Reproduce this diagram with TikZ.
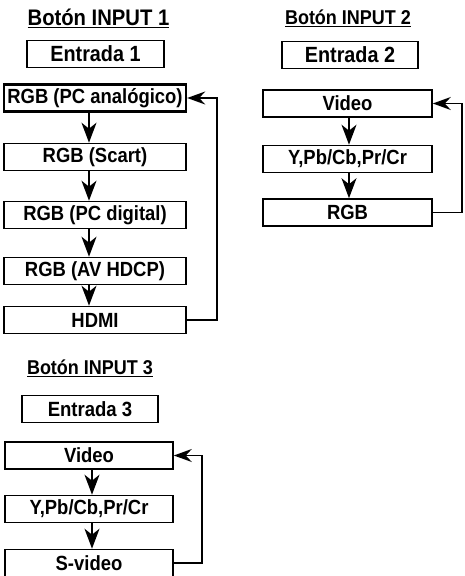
\documentclass[tikz,border=0pt]{standalone}
\usepackage{fontspec}
\setmainfont{Liberation Sans}[FakeStretch=0.9]
\usetikzlibrary{arrows.meta}
\tikzset{
  box/.style={draw, line width=1.6pt, inner sep=0pt, minimum height=27pt, font=\bfseries\fontsize{20.5}{22}\selectfont},
  entbox/.style={draw, line width=1.3pt, inner sep=0pt, minimum height=27pt, font=\bfseries\fontsize{22}{24}\selectfont},
  ttl/.style={inner sep=0pt, font=\bfseries\fontsize{20}{22}\selectfont},
  arr/.style={line width=1.6pt, -{Stealth[length=20pt,width=15pt,inset=6pt]}},
  loop/.style={line width=1.3pt, -{Stealth[length=18pt,width=13pt,inset=6pt]}},
}
\begin{document}
\begin{tikzpicture}[x=1pt,y=-1pt]
\useasboundingbox (0,0) rectangle (465,576);
% Section 1
\node[ttl, font=\bfseries\fontsize{22.5}{24}\selectfont] (t1) at (98.5,18) {\underline{Botón INPUT 1}};
\node[entbox, minimum width=137pt] (e1) at (95.5,54) {Entrada 1};
\node[box, minimum width=182pt, line width=2.4pt] (a1) at (95,98) {RGB (PC analógico)};
\node[box, minimum width=182pt] (a2) at (95,157) {RGB (Scart)};
\node[box, minimum width=182pt] (a3) at (95,215) {RGB (PC digital)};
\node[box, minimum width=182pt] (a4) at (95,271) {RGB (AV HDCP)};
\node[box, minimum width=182pt] (a5) at (95,320) {HDMI};
\coordinate (l1) at (217,320);
\foreach \u/\v in {a1/a2,a2/a3,a3/a4,a4/a5}
  \draw[arr] ([xshift=-6pt]\u.south) -- ([xshift=-6pt]\v.north);
\draw[loop] (a5.east) -- (a5.east -| l1) |- (a1.east);
% Section 2
\node[ttl] (t2) at (348,18) {\underline{Botón INPUT 2}};
\node[entbox, minimum width=136pt] (e2) at (350,55) {Entrada 2};
\node[box, minimum width=169pt] (b1) at (347.5,103.5) {Video};
\node[box, minimum width=169pt] (b2) at (347.5,159) {Y,Pb/Cb,Pr/Cr};
\node[box, minimum width=169pt] (b3) at (347.5,212.5) {RGB};
\coordinate (l2) at (462,212.5);
\foreach \u/\v in {b1/b2,b2/b3}
  \draw[arr] ([xshift=1.5pt]\u.south) -- ([xshift=1.5pt]\v.north);
\draw[loop] (b3.east) -- (b3.east -| l2) |- (b1.east);
% Section 3
\node[ttl] (t3) at (90,368) {\underline{Botón INPUT 3}};
\node[entbox, minimum width=136pt, font=\bfseries\fontsize{20.6}{22}\selectfont] (e3) at (90,409) {Entrada 3};
\node[box, minimum width=168pt] (c1) at (89,455.5) {Video};
\node[box, minimum width=168pt] (c2) at (89,509) {Y,Pb/Cb,Pr/Cr};
\node[box, minimum width=168pt] (c3) at (89,563) {S-video};
\coordinate (l3) at (202,563);
\foreach \u/\v in {c1/c2,c2/c3}
  \draw[arr] ([xshift=3pt]\u.south) -- ([xshift=3pt]\v.north);
\draw[loop] (c3.east) -- (c3.east -| l3) |- (c1.east);
\end{tikzpicture}
\end{document}
